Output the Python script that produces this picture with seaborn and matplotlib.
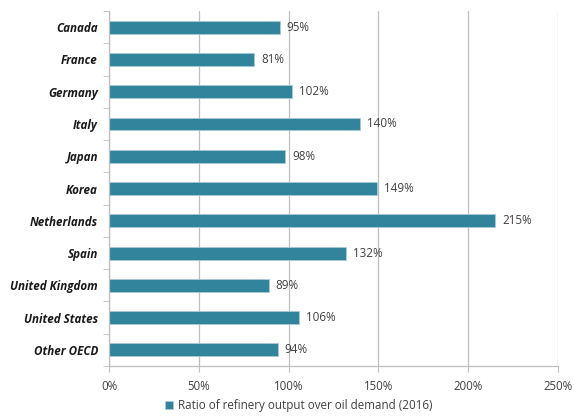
import matplotlib
matplotlib.use("Agg")
import matplotlib.pyplot as plt
import seaborn as sns
import pandas as pd
import numpy as np
from matplotlib.ticker import FixedLocator, PercentFormatter

countries = ["Canada", "France", "Germany", "Italy", "Japan", "Korea", "Netherlands",
             "Spain", "United Kingdom", "United States", "Other OECD"]
ratios = [95, 81, 102, 140, 98, 149, 215, 132, 89, 106, 94]
series_label = "Ratio of refinery output over oil demand (2016)"
xticks = [0, 50, 100, 150, 200, 250]

df = pd.DataFrame({"country": countries, "ratio": ratios})

sns.set_style("white")
plt.rcParams['font.family'] = ['Open Sans', 'DejaVu Sans']

fig = plt.figure(figsize=(5.74, 4.17), dpi=100)
ax = fig.add_axes([109/574, 1-366/417, (558-109)/574, (366-11)/417])

color = "#31849B"
sns.barplot(data=df, y="country", x="ratio", orient="h", color=color, width=0.4,
            saturation=1, ax=ax, label=series_label, edgecolor="#A9CCD6", linewidth=0.6)

ax.set_xlim(0, 250)
ax.set_ylim(10.5, -0.5)
ax.set_xticks(xticks)
ax.xaxis.set_major_formatter(PercentFormatter(decimals=0))
ax.grid(axis="x", color="#BFBFBF", linewidth=0.9)
ax.set_axisbelow(True)
ax.set_xlabel("")
ax.set_ylabel("")

for s in ["top", "right"]:
    ax.spines[s].set_visible(False)
for s in ["left", "bottom"]:
    ax.spines[s].set_color("#BFBFBF")
    ax.spines[s].set_linewidth(0.9)

# category boundary ticks
ax.yaxis.set_minor_locator(FixedLocator(np.arange(-0.5, 11, 1)))
ax.tick_params(axis="y", which="major", length=0, pad=8)
ax.tick_params(axis="y", which="minor", length=4, color="#BFBFBF", direction="out", left=True)
ax.tick_params(axis="x", which="major", length=4, color="#BFBFBF", direction="out", bottom=True,
               labelsize=8.3, labelcolor="#404040", pad=6)
for lab in ax.get_yticklabels():
    lab.set_fontweight("bold")
    lab.set_fontstyle("italic")
    lab.set_fontsize(8.4)
    lab.set_color("#1a1a1a")

for cont in ax.containers:
    ax.bar_label(cont, labels=[f"{v}%" for v in ratios], padding=5, fontsize=8.4, color="#404040")

leg = ax.legend(loc="center", bbox_to_anchor=(0.52, 0.028), bbox_transform=fig.transFigure,
                frameon=False, fontsize=8.4, handlelength=0.7, handleheight=0.7, handletextpad=0.4)
for t in leg.get_texts():
    t.set_color("#404040")

fig.savefig("out.png", dpi=100)
